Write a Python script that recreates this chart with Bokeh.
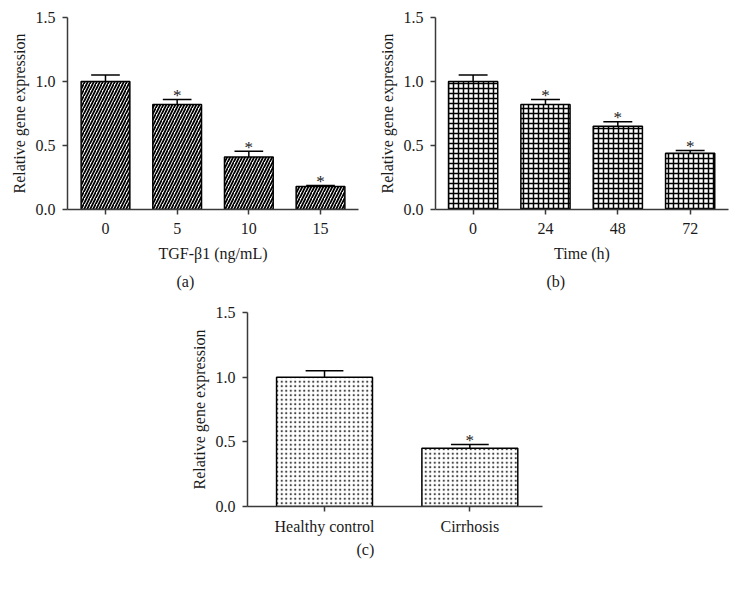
from bokeh.plotting import figure
from bokeh.layouts import column, row, Spacer
from bokeh.models import FixedTicker, Title, ColumnDataSource
from bokeh.embed import file_html
from bokeh.resources import INLINE

# ---- data ----
cats_a = ["0", "5", "10", "15"]
vals_a = [1.00, 0.82, 0.41, 0.18]
errs_a = [0.05, 0.04, 0.045, 0.008]
sig_a = [False, True, True, True]

cats_b = ["0", "24", "48", "72"]
vals_b = [1.00, 0.82, 0.65, 0.44]
errs_b = [0.05, 0.04, 0.035, 0.02]
sig_b = [False, True, True, True]

cats_c = ["Healthy control", "Cirrhosis"]
vals_c = [1.00, 0.45]
errs_c = [0.05, 0.03]
sig_c = [False, True]

yticks = [0.0, 0.5, 1.0, 1.5]
ylabels = ["0.0", "0.5", "1.0", "1.5"]

FONT = "Liberation Serif"
AXC = "#3a3a3a"
TXT = "#1a1a1a"


def make_panel(cats, vals, errs, sig, xlabel, tag, width, height, xr, borders,
               bar_w, cap_w, hatch, tag_offset, tag_standoff, xl_standoff):
    bl, br, bt, bb = borders
    p = figure(width=width, height=height, x_range=xr, y_range=(0, 1.5),
               output_backend="svg", toolbar_location=None,
               min_border_left=bl, min_border_right=br,
               min_border_top=bt, min_border_bottom=bb)
    p.outline_line_color = None
    p.xgrid.visible = False
    p.ygrid.visible = False
    p.background_fill_color = "white"
    p.border_fill_color = "white"

    xs = list(range(len(cats)))
    tops = [v + e for v, e in zip(vals, errs)]
    src = ColumnDataSource(dict(x=xs, top=vals, etop=tops,
                                c0=[x - cap_w / 2 for x in xs],
                                c1=[x + cap_w / 2 for x in xs]))
    # error bars (upper only)
    p.segment(x0="x", y0="top", x1="x", y1="etop", source=src,
              line_color="black", line_width=1.5)
    p.segment(x0="c0", y0="etop", x1="c1", y1="etop", source=src,
              line_color="black", line_width=1.5)
    p.vbar(x="x", top="top", width=bar_w, bottom=0, source=src,
           fill_color="white", line_color="black", line_width=1.5,
           **hatch)
    # significance stars
    sx = [x for x, s in zip(xs, sig) if s]
    sy = [t for t, s in zip(tops, sig) if s]
    p.text(x=sx, y=sy, text=["*"] * len(sx), text_align="center",
           text_baseline="middle", y_offset=-4, text_font_size="17px",
           text_font={"value": FONT}, text_color=TXT)

    # axes
    for ax in (p.xaxis[0], p.yaxis[0]):
        ax.axis_line_color = AXC
        ax.axis_line_width = 1.5
        ax.major_tick_line_color = AXC
        ax.major_tick_line_width = 1.5
        ax.major_tick_out = 5
        ax.major_tick_in = 0
        ax.minor_tick_line_color = None
        ax.major_label_text_font = FONT
        ax.major_label_text_font_size = "16px"
        ax.major_label_text_color = TXT
        ax.axis_label_text_font = FONT
        ax.axis_label_text_font_size = "16px"
        ax.axis_label_text_font_style = "normal"
        ax.axis_label_text_color = TXT

    p.yaxis.ticker = FixedTicker(ticks=yticks)
    p.yaxis.major_label_overrides = {t: l for t, l in zip(yticks, ylabels)}
    p.yaxis.axis_label = "Relative gene expression"
    p.yaxis.major_label_standoff = 7
    p.yaxis.axis_label_standoff = 5

    p.xaxis.ticker = FixedTicker(ticks=xs)
    p.xaxis.major_label_overrides = {x: c for x, c in zip(xs, cats)}
    p.xaxis.major_label_standoff = xl_standoff
    if xlabel:
        p.xaxis.axis_label = xlabel
        p.xaxis.axis_label_standoff = 8

    t = Title(text=tag, align="left", offset=tag_offset,
              standoff=tag_standoff, text_font=FONT, text_font_size="16px",
              text_font_style="normal", text_color=TXT)
    p.add_layout(t, "below")
    return p


pa = make_panel(cats_a, vals_a, errs_a, sig_a, "TGF-β1 (ng/mL)", "(a)",
                370, 298, (-0.53, 3.53), (67, 12, 16, 89), 0.68, 0.4,
                dict(hatch_pattern="right_diagonal_line", hatch_color="black",
                     hatch_scale=6, hatch_weight=1.8), 109, 13, 8)
pb = make_panel(cats_b, vals_b, errs_b, sig_b, "Time (h)", "(b)",
                366, 298, (-0.52, 3.53), (65, 8, 17, 87), 0.68, 0.4,
                dict(hatch_pattern="cross", hatch_color="black",
                     hatch_scale=5, hatch_weight=1.5), 111, 13, 8)
pc = make_panel(cats_c, vals_c, errs_c, sig_c, None, "(c)",
                372, 291, (-0.53, 1.5), (67, 10, 14, 83), 0.66, 0.26,
                dict(hatch_pattern="dot", hatch_color="#444444",
                     hatch_scale=4.5, hatch_weight=1), 109, 3, 6)

layout = column(row(pa, pb), row(Spacer(width=180, height=291), pc))

open("out.html", "w").write(file_html(layout, INLINE))
